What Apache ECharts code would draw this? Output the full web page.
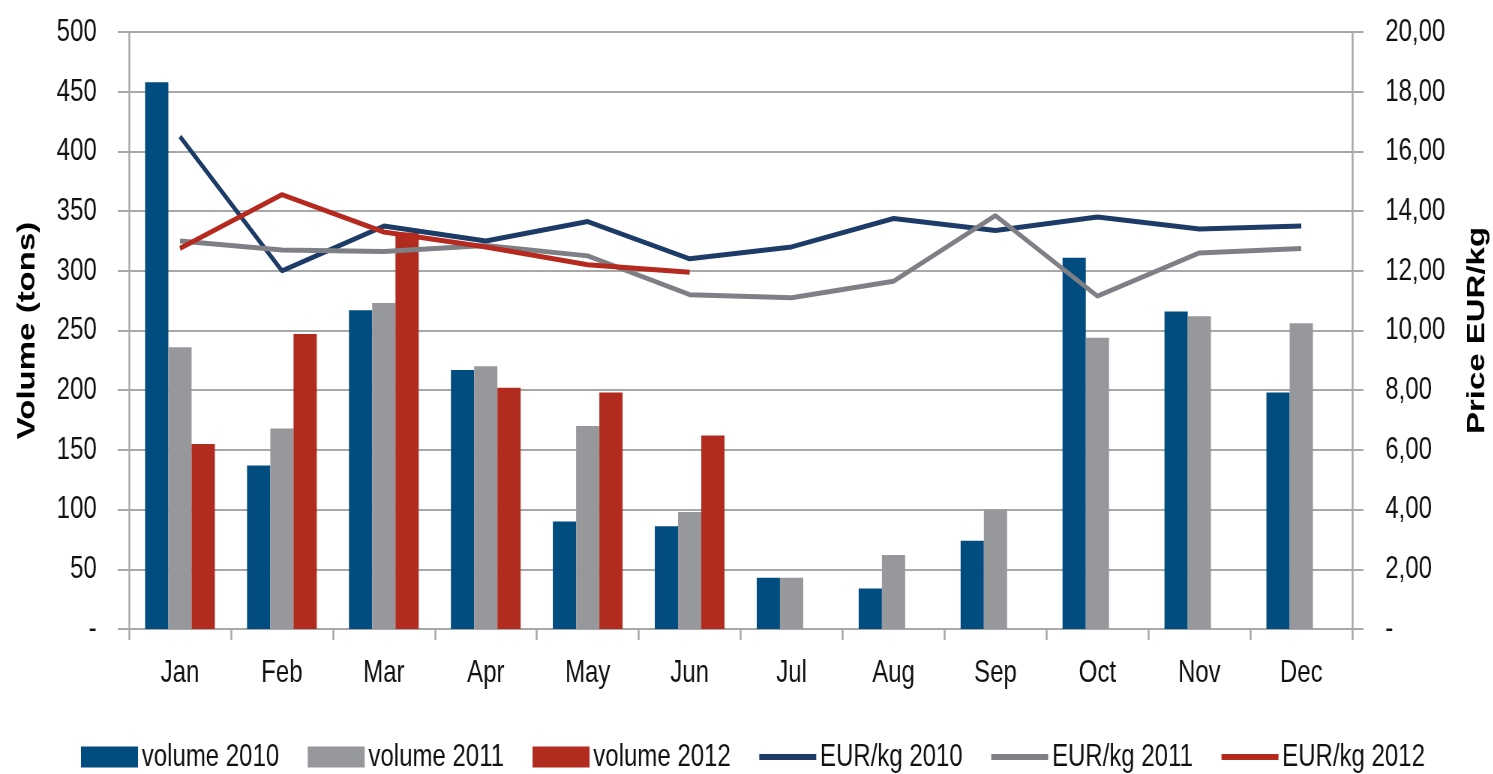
<!DOCTYPE html>
<html>
<head>
<meta charset="utf-8">
<script src="https://cdn.jsdelivr.net/npm/echarts@6/dist/echarts.min.js"></script>
<style>
  html, body { margin: 0; padding: 0; background: #fff; overflow: hidden; }
  /* drawn wider, then squeezed: gives the narrow lettering of the original */
  #chart { width: 1991px; height: 774px; transform: scaleX(0.75); transform-origin: 0 0; }
</style>
</head>
<body>
<div id="chart"></div>
<script>
const months = ["Jan", "Feb", "Mar", "Apr", "May", "Jun", "Jul", "Aug", "Sep", "Oct", "Nov", "Dec"];

// volumes in tons (left axis)
const volume2010 = [458, 137, 267, 217, 90, 86, 43, 34, 74, 311, 266, 198];
const volume2011 = [236, 168, 273, 220, 170, 98, 43, 62, 100, 244, 262, 256];
const volume2012 = [155, 247, 332, 202, 198, 162, null, null, null, null, null, null];

// price EUR/kg (right axis)
const price2010 = [16.5, 12.0, 13.5, 13.0, 13.65, 12.4, 12.8, 13.75, 13.35, 13.8, 13.4, 13.5];
const price2011 = [13.0, 12.7, 12.65, 12.85, 12.5, 11.2, 11.1, 11.65, 13.85, 11.15, 12.6, 12.75];
const price2012 = [12.75, 14.55, 13.3, 12.8, 12.2, 11.95, null, null, null, null, null, null];

const font = "'Liberation Sans', Arial, sans-serif";
const gridGray = "#a8a8a8";
const lineIcon = "path://M0,0 M0,7.5 L76,7.5 L76,13.5 L0,13.5 Z M76,21";

const chart = echarts.init(document.getElementById("chart"));

function barSeries(name, data, color) {
  return {
    name: name,
    type: "bar",
    yAxisIndex: 0,
    data: data,
    barWidth: 31,
    barGap: "0%",
    itemStyle: { color: color },
    z: 2
  };
}

function lineSeries(name, data, color) {
  return {
    name: name,
    type: "line",
    yAxisIndex: 1,
    data: data,
    symbol: "none",
    itemStyle: { color: color },
    lineStyle: { color: color, width: 5 },
    z: 3
  };
}

const option = {
  animation: false,
  grid: { left: 172, right: 188, top: 32, bottom: 145, outerBoundsMode: "none" },
  legend: {
    left: 103,
    top: 736,
    itemWidth: 76,
    itemHeight: 21,
    itemGap: 38,
    textStyle: { fontFamily: font, fontSize: 32, color: "#111" },
    data: [
      { name: "volume 2010", icon: "rect" },
      { name: "volume 2011", icon: "rect" },
      { name: "volume 2012", icon: "rect" },
      { name: "EUR/kg 2010", icon: lineIcon },
      { name: "EUR/kg 2011", icon: lineIcon },
      { name: "EUR/kg 2012", icon: lineIcon }
    ]
  },
  xAxis: {
    type: "category",
    data: months,
    axisLine: { lineStyle: { color: gridGray, width: 2 } },
    axisTick: { show: true, length: 11, lineStyle: { color: gridGray, width: 2.5 } },
    axisLabel: { fontFamily: font, fontSize: 32, color: "#111", margin: 28 }
  },
  yAxis: [
    {
      type: "value",
      min: 0,
      max: 500,
      interval: 50,
      name: "Volume (tons)",
      nameLocation: "middle",
      nameRotate: 90,
      nameGap: 119,
      nameTextStyle: { fontFamily: font, fontWeight: "bold", fontSize: 33, color: "#000" },
      axisLine: { show: true, lineStyle: { color: gridGray, width: 2.5 } },
      axisTick: { show: true, length: 15, lineStyle: { color: gridGray, width: 2 } },
      splitLine: { lineStyle: { color: gridGray, width: 2 } },
      axisLabel: {
        fontFamily: font, fontSize: 32, color: "#111", margin: 43,
        formatter: v => (v === 0 ? "-" : String(v))
      }
    },
    {
      type: "value",
      min: 0,
      max: 20,
      interval: 2,
      name: "Price EUR/kg",
      nameLocation: "middle",
      nameRotate: 90,
      nameGap: 150,
      nameTextStyle: { fontFamily: font, fontWeight: "bold", fontSize: 33, color: "#000" },
      axisLine: { show: true, lineStyle: { color: gridGray, width: 2.5 } },
      axisTick: { show: true, length: 15, lineStyle: { color: gridGray, width: 2 } },
      splitLine: { show: false },
      axisLabel: {
        fontFamily: font, fontSize: 32, color: "#111", margin: 44,
        formatter: v => (v === 0 ? "-" : v.toFixed(2).replace(".", ","))
      }
    }
  ],
  series: [
    barSeries("volume 2010", volume2010, "#024d80"),
    barSeries("volume 2011", volume2011, "#97989c"),
    barSeries("volume 2012", volume2012, "#b12b1f"),
    lineSeries("EUR/kg 2010", price2010, "#1c3b67"),
    lineSeries("EUR/kg 2011", price2011, "#7f8085"),
    lineSeries("EUR/kg 2012", price2012, "#b5291e")
  ]
};

chart.setOption(option);
</script>
</body>
</html>
